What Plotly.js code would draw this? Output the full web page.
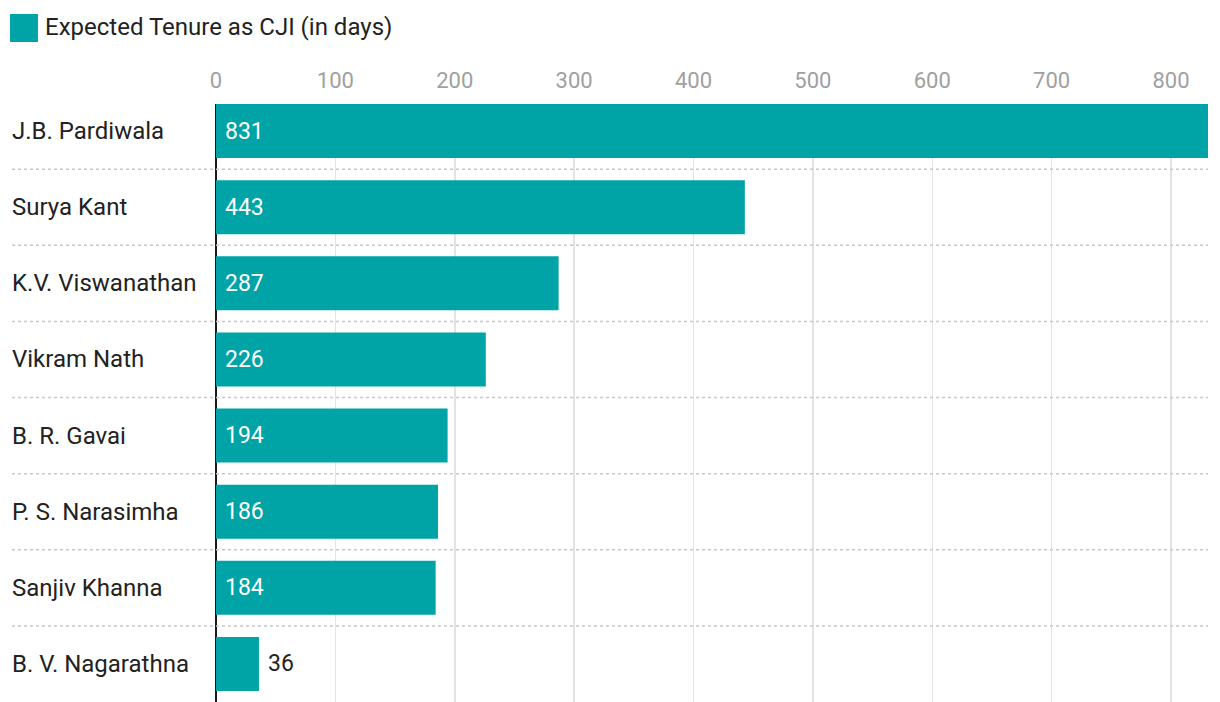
<!DOCTYPE html>
<html>
<head>
<meta charset="utf-8">
<script src="https://cdn.plot.ly/plotly-3.0.1.min.js"></script>
<style>html,body{margin:0;padding:0;background:#fff}#chart{width:1220px;height:702px}</style>
</head>
<body>
<div id="chart"></div>
<script>
const seriesName = "Expected Tenure as CJI (in days)";
const judges = ["J.B. Pardiwala","Surya Kant","K.V. Viswanathan","Vikram Nath","B. R. Gavai","P. S. Narasimha","Sanjiv Khanna","B. V. Nagarathna"];
const tenureDays = [831, 443, 287, 226, 194, 186, 184, 36];
const tickValues = [0,100,200,300,400,500,600,700,800];

const teal = "#00A3A6";
const font = "Roboto, 'Open Sans', sans-serif";
const W = 1220, L = 216, R = 12;
const plotW = W - L - R;

const annotations = [];
judges.forEach((name, i) => {
  annotations.push({
    xref: "paper", yref: "y", x: (10 - L) / plotW, y: name,
    text: name, showarrow: false, xanchor: "left", yanchor: "middle",
    font: {family: font, size: 24, color: "#222"}
  });
  const v = tenureDays[i];
  const inside = v > 80;
  annotations.push({
    xref: "x", yref: "y", x: inside ? 0 : v, y: name,
    xshift: 7,
    text: String(v), showarrow: false, xanchor: "left", yanchor: "middle",
    font: {family: font, size: 23, color: inside ? "#fff" : "#222"}
  });
});
annotations.push({
  xref: "paper", yref: "paper", x: (43 - L) / plotW, y: 1 + (104 - 27) / 598,
  text: seriesName, showarrow: false, xanchor: "left", yanchor: "middle",
  font: {family: font, size: 24, color: "#222"}
});

const shapes = [];
for (let i = 0; i < judges.length - 1; i++) {
  shapes.push({
    type: "line", xref: "paper", yref: "y",
    x0: (12 - L) / plotW, x1: 1, y0: i + 0.5, y1: i + 0.5,
    line: {color: "#c8c8c8", width: 1.5, dash: "dot"}, layer: "above"
  });
}
shapes.push({
  type: "rect", xref: "paper", yref: "paper",
  x0: (10 - L) / plotW, x1: (38 - L) / plotW,
  y0: 1 + (104 - 42) / 598, y1: 1 + (104 - 14) / 598,
  fillcolor: teal, line: {width: 0}
});

const data = [{
  type: "bar", orientation: "h", name: seriesName,
  x: tenureDays, y: judges,
  marker: {color: teal}, hoverinfo: "x+y"
}];

const layout = {
  width: W, height: 702,
  margin: {l: L, r: R, t: 104, b: 0, pad: 0},
  paper_bgcolor: "#fff", plot_bgcolor: "#fff",
  showlegend: false, bargap: 0.29,
  font: {family: font},
  xaxis: {
    side: "top", range: [0, 831], tickvals: tickValues,
    ticktext: tickValues.map(String),
    tickfont: {family: font, size: 22, color: "#a0a0a0"},
    showgrid: true, gridcolor: "#e3e3e3", gridwidth: 1.5,
    zeroline: true, zerolinecolor: "#1a1a1a", zerolinewidth: 2,
    ticks: "", ticklabelstandoff: 11, fixedrange: true
  },
  yaxis: {
    type: "category", autorange: false, range: [7.5, -0.356],
    showticklabels: false, showgrid: false, zeroline: false, ticks: "",
    fixedrange: true
  },
  annotations, shapes
};

Plotly.newPlot("chart", data, layout, {displayModeBar: false, staticPlot: true});
</script>
</body>
</html>
